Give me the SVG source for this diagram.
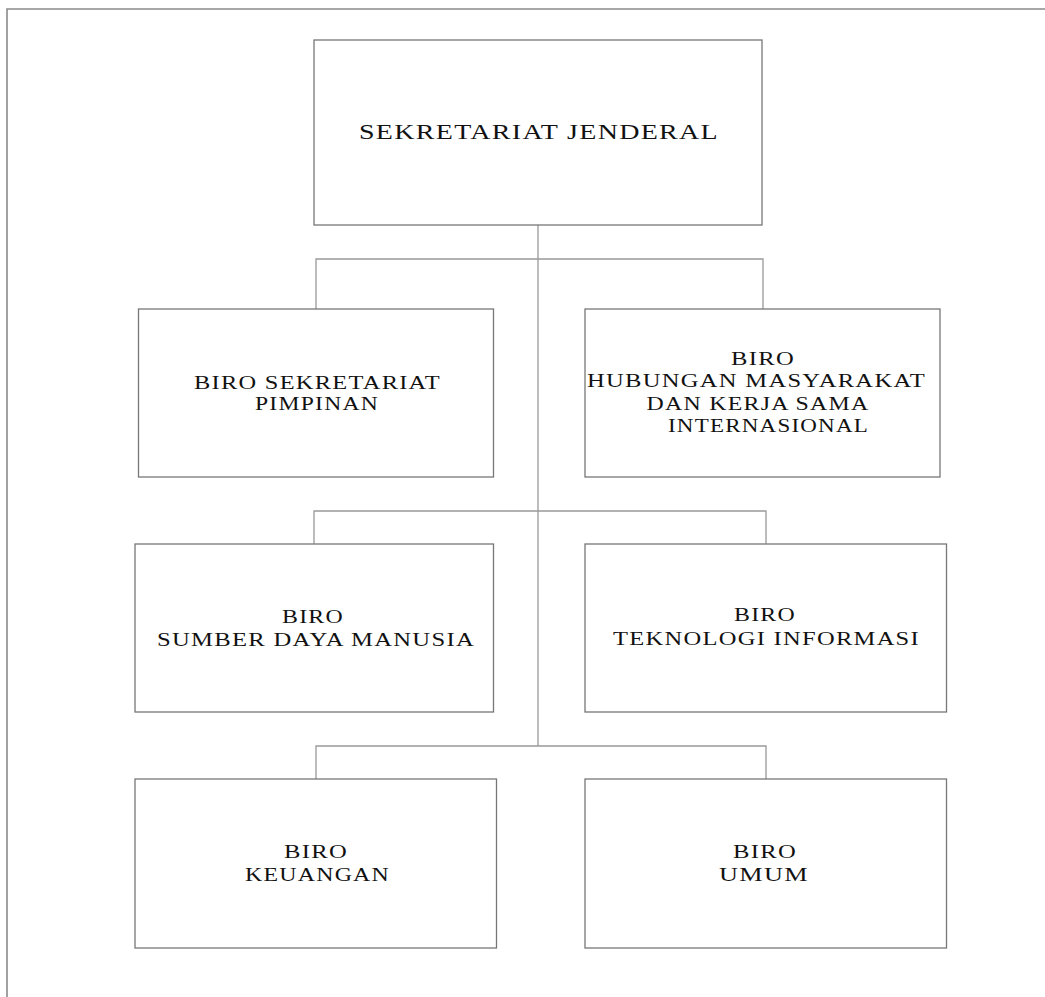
<svg xmlns="http://www.w3.org/2000/svg" width="1045" height="997" viewBox="0 0 1045 997">
<style>
.box{fill:#fff;stroke:#777;stroke-width:1.3}
.con{fill:none;stroke:#999;stroke-width:1.3}
.frame{fill:none;stroke:#8a8a8a;stroke-width:1.6}
.t{font-family:"Liberation Serif","Times New Roman",serif;font-size:19px;fill:#111;letter-spacing:1px}
.tt{font-family:"Liberation Serif","Times New Roman",serif;font-size:21.5px;fill:#111;letter-spacing:1px}
</style>
<rect width="1045" height="997" fill="#fff"/>
<path class="frame" d="M7 997 V9 H1045"/>
<g id="connectors">
<path class="con" d="M538 225 V746"/>
<path class="con" d="M316 309 V259 H763 V309"/>
<path class="con" d="M314 544 V511 H766 V544"/>
<path class="con" d="M316 779 V746 H766 V779"/>
</g>
<g id="sekjen">
<rect class="box" x="314" y="40" width="448" height="185"/>
<text class="tt" x="359" y="139" textLength="360" lengthAdjust="spacingAndGlyphs">SEKRETARIAT JENDERAL</text>
</g>
<g id="biro-setpim">
<rect class="box" x="138.5" y="309" width="355" height="168"/>
<text class="t" x="194" y="388.5" textLength="247" lengthAdjust="spacingAndGlyphs">BIRO SEKRETARIAT</text>
<text class="t" x="255" y="410" textLength="124" lengthAdjust="spacingAndGlyphs">PIMPINAN</text>
</g>
<g id="biro-humas">
<rect class="box" x="585" y="309" width="355" height="168"/>
<text class="t" x="731" y="364.5" textLength="64" lengthAdjust="spacingAndGlyphs">BIRO</text>
<text class="t" x="587" y="387" textLength="339" lengthAdjust="spacingAndGlyphs">HUBUNGAN MASYARAKAT</text>
<text class="t" x="646.5" y="410" textLength="223" lengthAdjust="spacingAndGlyphs">DAN KERJA SAMA</text>
<text class="t" x="668" y="432" textLength="201" lengthAdjust="spacingAndGlyphs">INTERNASIONAL</text>
</g>
<g id="biro-sdm">
<rect class="box" x="135" y="544" width="358.5" height="168"/>
<text class="t" x="282" y="623" textLength="62" lengthAdjust="spacingAndGlyphs">BIRO</text>
<text class="t" x="157" y="645.5" textLength="318" lengthAdjust="spacingAndGlyphs">SUMBER DAYA MANUSIA</text>
</g>
<g id="biro-ti">
<rect class="box" x="585" y="544" width="361.5" height="168"/>
<text class="t" x="734" y="621" textLength="62" lengthAdjust="spacingAndGlyphs">BIRO</text>
<text class="t" x="613" y="645" textLength="307" lengthAdjust="spacingAndGlyphs">TEKNOLOGI INFORMASI</text>
</g>
<g id="biro-keuangan">
<rect class="box" x="135" y="779" width="361.5" height="169"/>
<text class="t" x="284" y="858" textLength="64" lengthAdjust="spacingAndGlyphs">BIRO</text>
<text class="t" x="245" y="880.5" textLength="145" lengthAdjust="spacingAndGlyphs">KEUANGAN</text>
</g>
<g id="biro-umum">
<rect class="box" x="585" y="779" width="361.5" height="169"/>
<text class="t" x="733" y="858" textLength="64" lengthAdjust="spacingAndGlyphs">BIRO</text>
<text class="t" x="719" y="880.5" textLength="90" lengthAdjust="spacingAndGlyphs">UMUM</text>
</g>
</svg>
